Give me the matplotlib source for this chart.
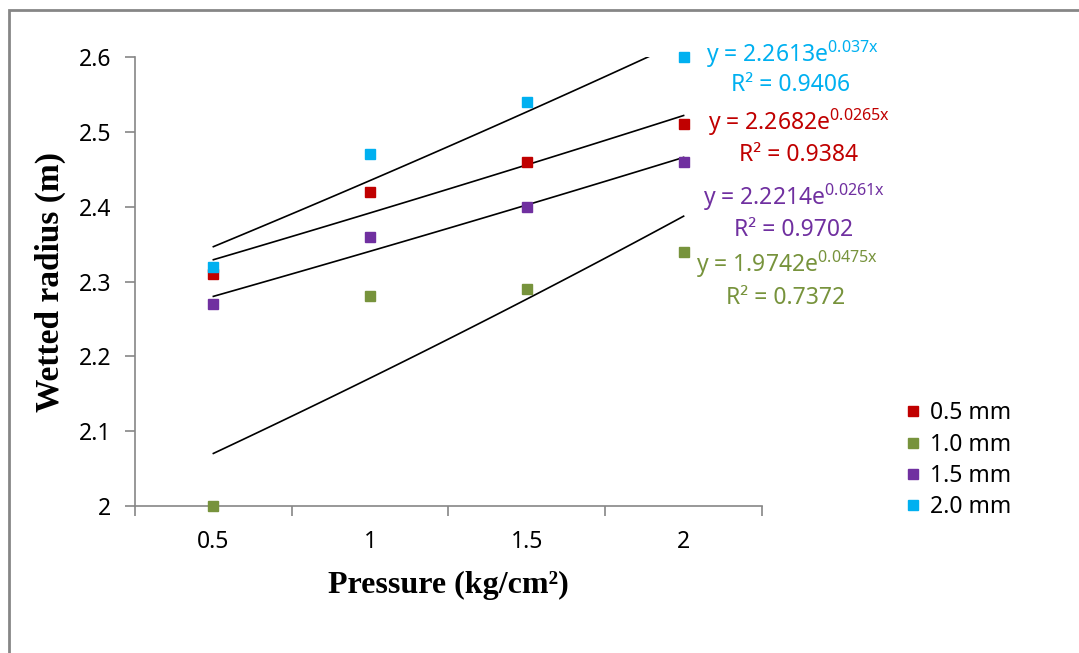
import numpy as np
import matplotlib.pyplot as plt
from matplotlib.patches import Rectangle

# pressure categories (Excel category axis -> x index 1..4)
PRESSURE = ['0.5', '1', '1.5', '2']
X_IDX = np.array([1, 2, 3, 4])

SERIES = ['0.5 mm', '1.0 mm', '1.5 mm', '2.0 mm']
R_05 = [2.31, 2.42, 2.46, 2.51]
R_10 = [2.00, 2.28, 2.29, 2.34]
R_15 = [2.27, 2.36, 2.40, 2.46]
R_20 = [2.32, 2.47, 2.54, 2.60]

# exponential trendlines y = a * exp(b x)
TREND_A = [2.2682, 1.9742, 2.2214, 2.2613]
TREND_B = [0.0265, 0.0475, 0.0261, 0.037]
R2 = ['0.9384', '0.7372', '0.9702', '0.9406']

COLORS = ['#C00000', '#77933C', '#7030A0', '#00B0F0']

FS = 16.5
plt.rcParams['font.family'] = ['Noto Sans', 'DejaVu Sans']
plt.rcParams['mathtext.fontset'] = 'custom'
plt.rcParams['mathtext.rm'] = 'Noto Sans'

fig = plt.figure(figsize=(10.79, 6.53), dpi=100)
ax = fig.add_axes([0.1251, 0.2251, 0.5811, 0.6876])

data = [R_05, R_10, R_15, R_20]
for i in range(4):
  ax.plot(X_IDX, data[i], linestyle='none', marker='s', markersize=7,
          color=COLORS[i], label=SERIES[i], clip_on=False, zorder=3)

xs = np.linspace(1, 4, 50)
for i in range(4):
  ax.plot(xs, TREND_A[i] * np.exp(TREND_B[i] * xs), color='black',
          linewidth=1.2, zorder=2)

ax.set_xlim(0.5, 4.5)
ax.set_ylim(2.0, 2.6)
ax.set_yticks(np.arange(2.0, 2.61, 0.1))
ax.set_yticklabels(['2', '2.1', '2.2', '2.3', '2.4', '2.5', '2.6'])
ax.set_xticks([0.5, 1.5, 2.5, 3.5, 4.5])
ax.set_xticklabels([])
ax.set_xticks(X_IDX, minor=True)
ax.set_xticklabels(PRESSURE, minor=True)
ax.tick_params(axis='x', which='minor', length=0, pad=17, labelsize=FS)
ax.tick_params(axis='x', which='major', length=7, width=1.2, color='#868686')
ax.tick_params(axis='y', length=7, width=1.2, color='#868686', labelsize=FS, pad=10)

for s in ['top', 'right']:
  ax.spines[s].set_visible(False)
for s in ['left', 'bottom']:
  ax.spines[s].set_color('#868686')
  ax.spines[s].set_linewidth(1.2)

ax.set_xlabel('Pressure (kg/cm²)', fontsize=23, fontweight='bold',
              family='Liberation Serif')
ax.set_ylabel('Wetted radius (m)', fontsize=24, fontweight='bold',
              family='Liberation Serif')
ax.xaxis.set_label_coords(0.5, -0.176)
ax.yaxis.set_label_coords(-0.135, 0.5)
ax.xaxis.label.set_va('center')
ax.yaxis.label.set_va('center')

# equation labels (figure pixel positions)
eq_pos = [(799, 122, 799, 155), (787, 264, 786, 298),
          (794, 197, 794, 230), (792, 54, 791, 85)]
for i in range(4):
  x1, y1, x2, y2 = eq_pos[i]
  exp_txt = '%sx' % TREND_B[i]
  fig.text(x1 / 1079, 1 - y1 / 653,
           'y = %se$^{\\mathregular{%s}}$' % (TREND_A[i], exp_txt),
           color=COLORS[i], fontsize=FS, ha='center', va='center')
  fig.text(x2 / 1079, 1 - y2 / 653, 'R² = %s' % R2[i],
           color=COLORS[i], fontsize=FS, ha='center', va='center')

leg = ax.legend(loc='center left', bbox_to_anchor=(1.199, 0.102), frameon=False,
                fontsize=FS, handlelength=0.5, handletextpad=0.5,
                labelspacing=0.32, markerscale=1.0)

# chart frame
fig.patches.append(Rectangle((9 / 1079, -0.1), 1.2, 1 - 10 / 653 + 0.1,
                             transform=fig.transFigure, fill=False,
                             edgecolor='#868686', linewidth=2))

plt.savefig('out.png', dpi=100)
